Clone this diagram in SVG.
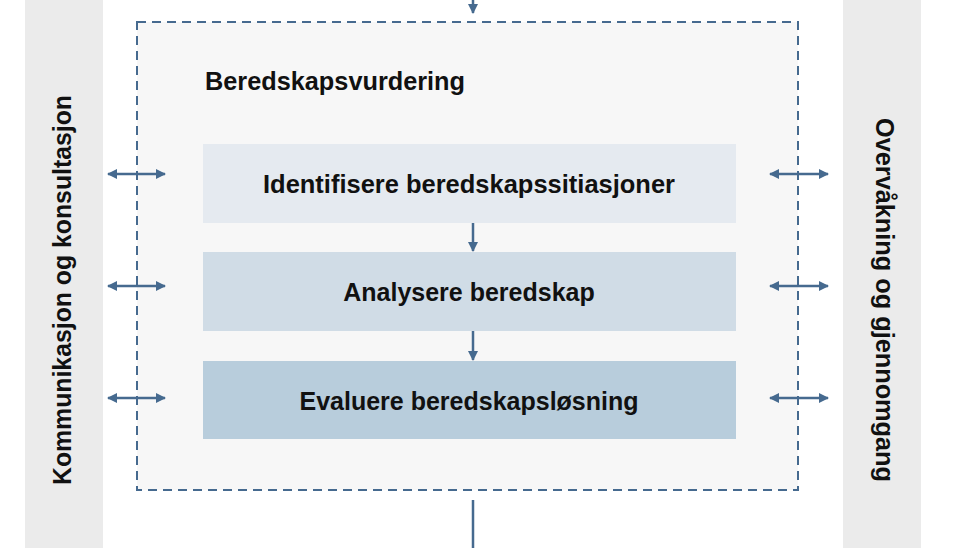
<svg xmlns="http://www.w3.org/2000/svg" width="960" height="548" viewBox="0 0 960 548">
<style>
text{font-family:"Liberation Sans",Arial,sans-serif;font-weight:bold;fill:#111;font-size:25px}
.band{fill:#ebebeb}
.lbl{text-anchor:middle}
.ln{stroke:#466a8f;stroke-width:2.5;fill:none}
</style>
<defs>
<marker id="ah" viewBox="0 0 10 10" refX="9" refY="5" markerWidth="4" markerHeight="4" orient="auto-start-reverse"><path d="M0,0L10,5L0,10z" fill="#466a8f"/></marker>
</defs>
<rect width="960" height="548" fill="#fff"/>
<g id="left-band"><rect class="band" x="25" y="0" width="78" height="548"/>
<text class="lbl" transform="translate(71,290) rotate(-90)" textLength="390" lengthAdjust="spacingAndGlyphs">Kommunikasjon og konsultasjon</text></g>
<g id="right-band"><rect class="band" x="843" y="0" width="78" height="548"/>
<text class="lbl" transform="translate(876,300) rotate(90)" textLength="364" lengthAdjust="spacingAndGlyphs">Overvåkning og gjennomgang</text></g>
<g id="frame"><rect x="137" y="22" width="661" height="468" fill="#f7f7f7" stroke="#466a8f" stroke-width="2" stroke-dasharray="9,6"/>
<text x="205" y="90" textLength="260" lengthAdjust="spacingAndGlyphs">Beredskapsvurdering</text></g>
<g id="n1"><rect x="203" y="144" width="533" height="79" fill="#e5eaf0"/><text class="lbl" x="469" y="193" textLength="412" lengthAdjust="spacingAndGlyphs">Identifisere beredskapssitiasjoner</text></g>
<g id="n2"><rect x="203" y="252" width="533" height="79" fill="#d0dce6"/><text class="lbl" x="469" y="301">Analysere beredskap</text></g>
<g id="n3"><rect x="203" y="361" width="533" height="78" fill="#b8cddc"/><text class="lbl" x="469" y="410">Evaluere beredskapsløsning</text></g>
<g id="connectors">
<line class="ln" x1="473" y1="0" x2="473" y2="13" marker-end="url(#ah)"/>
<line class="ln" x1="473" y1="223" x2="473" y2="251" marker-end="url(#ah)"/>
<line class="ln" x1="473" y1="331" x2="473" y2="360" marker-end="url(#ah)"/>
<line class="ln" x1="473" y1="500" x2="473" y2="548"/>
<line class="ln" x1="108" y1="174" x2="165" y2="174" marker-start="url(#ah)" marker-end="url(#ah)"/>
<line class="ln" x1="108" y1="286" x2="165" y2="286" marker-start="url(#ah)" marker-end="url(#ah)"/>
<line class="ln" x1="108" y1="398" x2="165" y2="398" marker-start="url(#ah)" marker-end="url(#ah)"/>
<line class="ln" x1="770" y1="174" x2="828" y2="174" marker-start="url(#ah)" marker-end="url(#ah)"/>
<line class="ln" x1="770" y1="286" x2="828" y2="286" marker-start="url(#ah)" marker-end="url(#ah)"/>
<line class="ln" x1="770" y1="398" x2="828" y2="398" marker-start="url(#ah)" marker-end="url(#ah)"/>
</g>
</svg>
